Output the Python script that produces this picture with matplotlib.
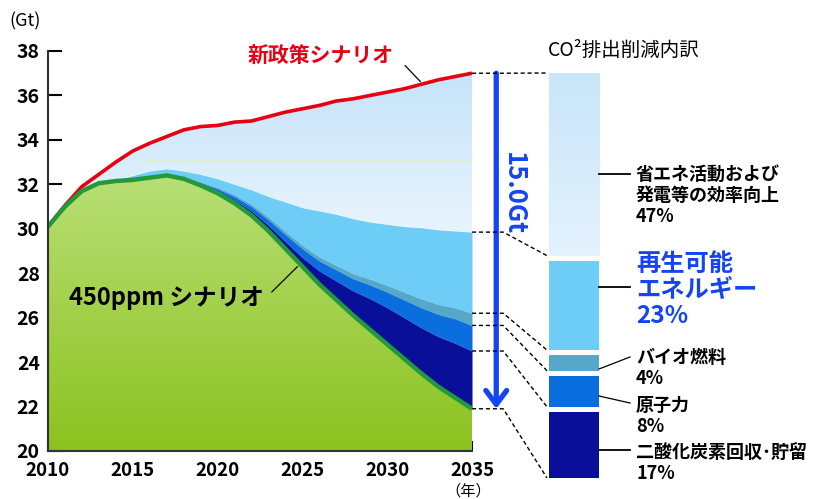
import numpy as np
import matplotlib
matplotlib.use("Agg")
import matplotlib.pyplot as plt
from matplotlib.patches import PathPatch
from matplotlib.lines import Line2D
from matplotlib.colors import LinearSegmentedColormap

plt.rcParams['font.family'] = ['Noto Sans CJK JP', 'DejaVu Sans']

# ---- data (Gt CO2) ----
years = np.arange(2010, 2036)
new_policy = [30.1, 31.05, 31.9, 32.45, 33.0, 33.5, 33.85, 34.15, 34.45, 34.6, 34.65, 34.8, 34.85,
              35.05, 35.25, 35.4, 35.55, 35.75, 35.85, 36.0, 36.15, 36.3, 36.5, 36.7, 36.85, 37.0]
s450 = [30.1, 31.0, 31.7, 32.05, 32.15, 32.2, 32.3, 32.4, 32.25, 31.95, 31.6, 31.15, 30.6,
        29.9, 29.1, 28.3, 27.5, 26.8, 26.1, 25.45, 24.8, 24.15, 23.5, 22.9, 22.4, 21.9]
# wedges stacked on top of the 450ppm line
ccs = [0, 0, 0, 0, 0, 0, 0, 0, 0.03, 0.06, 0.1, 0.15, 0.2, 0.25, 0.32, 0.4, 0.6, 0.85,
       1.1, 1.4, 1.65, 1.85, 2.05, 2.25, 2.45, 2.6]
nuclear = [0, 0, 0, 0, 0, 0, 0, 0, 0.03, 0.06, 0.1, 0.15, 0.2, 0.25, 0.32, 0.4, 0.45, 0.5,
           0.55, 0.62, 0.7, 0.8, 0.9, 1.0, 1.1, 1.15]
biofuel = [0, 0, 0, 0, 0, 0, 0, 0, 0.02, 0.04, 0.06, 0.08, 0.1, 0.12, 0.14, 0.16, 0.18, 0.2,
           0.23, 0.26, 0.3, 0.35, 0.4, 0.45, 0.5, 0.55]
renewable = [0, 0, 0, 0, 0.05, 0.2, 0.3, 0.3, 0.27, 0.34, 0.39, 0.47, 0.65, 0.93, 1.32, 1.69,
             2.07, 2.3, 2.47, 2.57, 2.75, 2.95, 3.2, 3.35, 3.45, 3.65]

# breakdown bar (bottom -> top)
bar_names = ['二酸化炭素回収･貯留', '原子力', 'バイオ燃料', '再生可能\nエネルギー', '省エネ活動および\n発電等の効率向上']
bar_shares = [17, 8, 4, 23, 47]
total_cut = 15.0

# ---- colours ----
c_ccs = '#0a0f9a'
c_nuc = '#0b6edf'
c_bio = '#55a8c8'
c_ren = '#6dcdf7'
c_red = '#e60012'
c_green = '#23993a'
c_blue = '#1444f5'

W, H = 813, 499
fig = plt.figure(figsize=(W / 100, H / 100), dpi=100)


def fx(px):
    return px / W


def fy(py):
    return 1 - py / H


ax = fig.add_axes([fx(48), fy(451), fx(472) - fx(48), fy(51) - fy(451)])

g = np.array(s450)
red = np.array(new_policy)
ccs_top = g + np.array(ccs)
nuc_top = ccs_top + np.array(nuclear)
bio_top = nuc_top + np.array(biofuel)
ren_top = bio_top + np.array(renewable)


def gradient_fill(x, y1, y2, c_low, c_high, ylo, yhi, z):
    poly = ax.fill_between(x, y1, y2, color='none', lw=0)
    cmap = LinearSegmentedColormap.from_list('g', [c_low, c_high])
    grad = np.linspace(0, 1, 256).reshape(-1, 1)
    im = ax.imshow(grad, extent=[x[0], x[-1], ylo, yhi], origin='lower', aspect='auto',
                   cmap=cmap, zorder=z, interpolation='bicubic')
    patch = PathPatch(poly.get_paths()[0], transform=ax.transData, facecolor='none', edgecolor='none')
    ax.add_patch(patch)
    im.set_clip_path(patch)


# efficiency region (between renewables top and new policy line)
gradient_fill(years, ren_top, red, '#eaf5fd', '#c4e3fa', 29.5, 37.2, 1)
ax.fill_between(years, bio_top, ren_top, color=c_ren, lw=0, zorder=2)
ax.fill_between(years, nuc_top, bio_top, color=c_bio, lw=0, zorder=2)
ax.fill_between(years, ccs_top, nuc_top, color=c_nuc, lw=0, zorder=2)
ax.fill_between(years, g, ccs_top, color=c_ccs, lw=0, zorder=2)
# green 450ppm area
gradient_fill(years, 20, g, '#8cc21f', '#b9df76', 20, 32.5, 3)

ax.axhline(33.1, xmin=0.22, color='#e2efc8', lw=0.8, zorder=1.5)

ax.plot(years, red, color=c_red, lw=2.6, zorder=4, solid_capstyle='butt')
ax.plot(years, g, color=c_green, lw=3.2, zorder=5, solid_capstyle='butt')

ax.set_xlim(2010, 2035)
ax.set_ylim(20, 38)
ax.set_xticks(range(2010, 2036, 5))
ax.set_yticks(range(20, 39, 2))
for s in ['top', 'right']:
    ax.spines[s].set_visible(False)
for s in ['left', 'bottom']:
    ax.spines[s].set_color('#333333')
    ax.spines[s].set_linewidth(1.5)
    ax.spines[s].set_zorder(6)
ax.tick_params(axis='y', direction='in', length=10, width=1.5, pad=6, labelsize=14)
ax.tick_params(axis='x', direction='in', length=7.5, width=1.5, pad=7, labelsize=13.5)
for lab in ax.get_xticklabels() + ax.get_yticklabels():
    lab.set_fontweight('bold')

fig.text(fx(25), fy(21), '(Gt)', fontsize=13, ha='center', va='center')
fig.text(fx(468), fy(491), '（年）', fontsize=11, ha='center', va='center')

# scenario labels
ax.text(2026.1, 37.75, '新政策シナリオ', color=c_red, fontsize=15, fontweight='bold',
        ha='center', va='center', zorder=7)
ax.plot([2031.06, 2031.95], [37.34, 36.63], color='k', lw=0.9, zorder=7)
ax.text(2017.0, 26.9, '450ppm シナリオ', color='k', fontsize=17, fontweight='bold',
        ha='center', va='center', zorder=7)
ax.plot([2023.2, 2024.7], [27.16, 28.29], color='k', lw=0.9, zorder=7)

# 15.0Gt arrow
ax.annotate('', xy=(2036.43, g[-1]), xytext=(2036.43, red[-1]),
            arrowprops=dict(arrowstyle='->, head_length=1.0, head_width=0.75', color=c_blue, lw=3.8,
                            shrinkA=0, shrinkB=0),
            annotation_clip=False)
ax.text(2037.45, 31.6, f'{total_cut:.1f}Gt', rotation=-90, color=c_blue, fontsize=18.5,
        fontweight='bold', ha='center', va='center', clip_on=False)

# breakdown bar
bx = fig.add_axes([fx(549), fy(478), fx(599) - fx(549), fy(73) - fy(478)])
gap = 1.3
bar_colors = [c_ccs, c_nuc, c_bio, c_ren, None]
edges = []
bottom = 0
for share, col in zip(bar_shares, bar_colors):
    if col is None:
        cmap = LinearSegmentedColormap.from_list('b', ['#e4f2fd', '#c8e6fa'])
        bx.imshow(np.linspace(0, 1, 256).reshape(-1, 1), extent=[0, 1, bottom, bottom + share],
                  origin='lower', aspect='auto', cmap=cmap)
    else:
        bx.bar(0.5, share, width=1, bottom=bottom, color=col, lw=0)
    edges.append((bottom, bottom + share))
    bottom += share + gap
bx.set_xlim(0, 1)
bx.set_ylim(0, bottom - gap)
bx.axis('off')

fig.text(fx(624), fy(50), 'CO²排出削減内訳', fontsize=14, ha='center', va='center')

# dashed connectors from 2035 values to bar segment edges
to_fig = fig.transFigure.inverted()
left_vals = [red[-1], ren_top[-1], bio_top[-1], nuc_top[-1], ccs_top[-1], g[-1]]
bar_pts = [edges[4][1], edges[4][0], edges[3][0], edges[2][0], edges[1][0], edges[0][0]]
for v, b in zip(left_vals, bar_pts):
    p0 = to_fig.transform(ax.transData.transform((2035, v)))
    p1 = to_fig.transform(ax.transData.transform((2036.84, v)))
    p2 = to_fig.transform(bx.transData.transform((-0.04, b)))
    fig.add_artist(Line2D([p0[0], p1[0], p2[0]], [p0[1], p1[1], p2[1]], transform=fig.transFigure,
                          color='k', lw=1, ls=(0, (3, 2))))

# bar labels with leader lines
leaders = [((599, 450), (630, 450)), ((599, 396), (630, 403)), ((599, 369), (630, 357)),
           ((599, 287), (630, 287)), ((599, 174), (630, 174))]
label_tops = [443, 396, 348, 252, 165]
for name, share, (a, b), top in zip(bar_names, bar_shares, leaders, label_tops):
    fig.add_artist(Line2D([fx(a[0]), fx(b[0])], [fy(a[1]), fy(b[1])], transform=fig.transFigure,
                          color='k', lw=1.3 if a[1] == b[1] else 0.9))
    big = name.startswith('再生')
    fig.text(fx(636), fy(top), f'{name}\n{share}%', fontsize=17.5 if big else 13,
             color=c_blue if big else 'k', fontweight='bold', ha='left', va='top',
             linespacing=1.1 if big else 1.15)

fig.savefig('out.png', dpi=100)
